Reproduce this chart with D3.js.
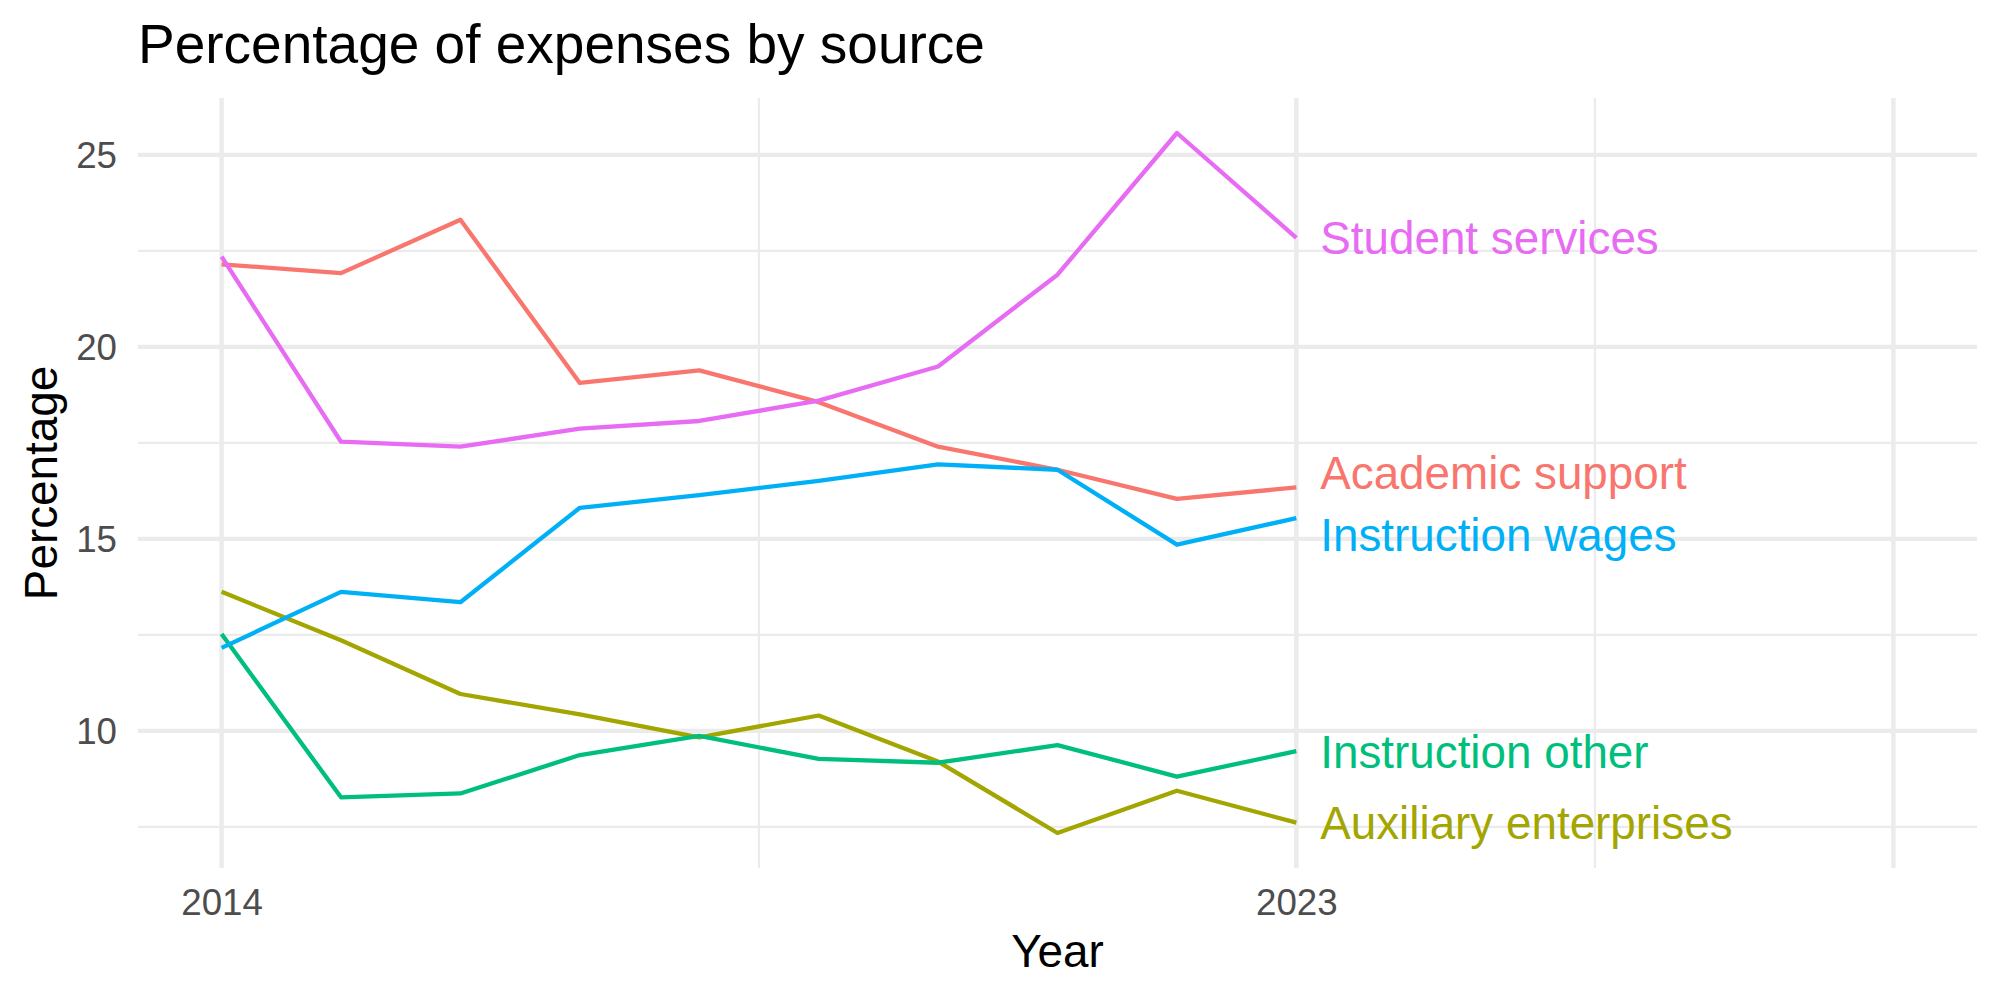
<!DOCTYPE html>
<html>
<head>
<meta charset="utf-8">
<script src="https://cdn.jsdelivr.net/npm/d3@7"></script>
<style>
  body { margin: 0; background: #ffffff; }
  svg { display: block; font-family: "Liberation Sans", Arial, Helvetica, sans-serif; }
</style>
</head>
<body>
<div id="container"></div>
<script>
// data
const years = [2014, 2015, 2016, 2017, 2018, 2019, 2020, 2021, 2022, 2023];
const categories = ['Academic support', 'Auxiliary enterprises', 'Instruction other', 'Instruction wages', 'Student services'];
const academicSupport = [22.15, 21.92, 23.31, 19.06, 19.39, 18.56, 17.40, 16.80, 16.04, 16.34];
const auxiliaryEnterprises = [13.62, 12.36, 10.96, 10.43, 9.83, 10.40, 9.20, 7.34, 8.44, 7.61];
const instructionOther = [12.52, 8.27, 8.37, 9.37, 9.87, 9.27, 9.17, 9.63, 8.81, 9.47];
const instructionWages = [12.16, 13.62, 13.35, 15.81, 16.14, 16.51, 16.94, 16.80, 14.85, 15.54];
const studentServices = [22.35, 17.53, 17.40, 17.87, 18.07, 18.60, 19.49, 21.88, 25.57, 22.84];
// end labels (repelled a little where they would collide)
const labelYear = 2023.2;
const labelValues = [16.74, 7.62, 9.47, 15.12, 22.84];
const xLimits = [2014, 2028];
const xBreaks = [2014, 2023, 2028];
const xTickLabels = ['2014', '2023', ''];
const xMinorBreaks = [2018.5, 2025.5];
const yBreaks = [10, 15, 20, 25];
const yMinorBreaks = [7.5, 12.5, 17.5, 22.5];
const colors = ['#F8766D', '#A3A500', '#00BF7D', '#00B0F6', '#E76BF3'];

const seriesValues = [academicSupport, auxiliaryEnterprises, instructionOther, instructionWages, studentServices];
const series = categories.map((name, i) => ({
    name,
    color: colors[i],
    labelY: labelValues[i],
    values: years.map((year, j) => ({ year, value: seriesValues[i][j] }))
}));

const W = 2000, H = 1000;
const panel = { left: 138, right: 1977, top: 98, bottom: 868 };

const expand = (lo, hi) => {
    const pad = (hi - lo) * 0.05;
    return [lo - pad, hi + pad];
};

const allValues = seriesValues.flat();
const x = d3.scaleLinear().domain(expand(xLimits[0], xLimits[1])).range([panel.left, panel.right]);
const y = d3.scaleLinear().domain(expand(d3.min(allValues), d3.max(allValues))).range([panel.bottom, panel.top]);

const svg = d3.select('#container')
    .append('svg')
    .attr('width', W)
    .attr('height', H)
    .attr('viewBox', `0 0 ${W} ${H}`);

svg.append('rect').attr('width', W).attr('height', H).attr('fill', '#ffffff');

// grid
const grid = svg.append('g').attr('stroke', '#EBEBEB').attr('fill', 'none');

grid.selectAll('.minor-y')
    .data(yMinorBreaks).enter()
    .append('line')
    .attr('x1', panel.left).attr('x2', panel.right)
    .attr('y1', d => y(d)).attr('y2', d => y(d))
    .attr('stroke-width', 2.2);

grid.selectAll('.minor-x')
    .data(xMinorBreaks).enter()
    .append('line')
    .attr('x1', d => x(d)).attr('x2', d => x(d))
    .attr('y1', panel.top).attr('y2', panel.bottom)
    .attr('stroke-width', 2.2);

grid.selectAll('.major-y')
    .data(yBreaks).enter()
    .append('line')
    .attr('x1', panel.left).attr('x2', panel.right)
    .attr('y1', d => y(d)).attr('y2', d => y(d))
    .attr('stroke-width', 4.4);

grid.selectAll('.major-x')
    .data(xBreaks).enter()
    .append('line')
    .attr('x1', d => x(d)).attr('x2', d => x(d))
    .attr('y1', panel.top).attr('y2', panel.bottom)
    .attr('stroke-width', 4.4);

// axes
const yAxis = svg.append('g')
    .attr('transform', `translate(${panel.left},0)`)
    .call(d3.axisLeft(y).tickValues(yBreaks).tickSize(0).tickPadding(21).tickFormat(d3.format('d')));

const xAxis = svg.append('g')
    .attr('transform', `translate(0,${panel.bottom})`)
    .call(d3.axisBottom(x).tickValues(xBreaks).tickSize(0).tickPadding(21).tickFormat((d, i) => xTickLabels[i]));

[xAxis, yAxis].forEach(ax => {
    ax.select('.domain').remove();
    ax.selectAll('text')
        .attr('fill', '#4D4D4D')
        .style('font-size', '36.7px')
        .style('font-family', '"Liberation Sans", Arial, Helvetica, sans-serif');
});
yAxis.selectAll('text').attr('dy', '0.35em');

// lines
const line = d3.line()
    .x(d => x(d.year))
    .y(d => y(d.value));

svg.append('g')
    .selectAll('path')
    .data(series).enter()
    .append('path')
    .attr('d', d => line(d.values))
    .attr('fill', 'none')
    .attr('stroke', d => d.color)
    .attr('stroke-width', 4.3)
    .attr('stroke-linejoin', 'round')
    .attr('stroke-linecap', 'butt');

// end labels
svg.append('g')
    .selectAll('text')
    .data(series).enter()
    .append('text')
    .attr('x', x(labelYear))
    .attr('y', d => y(d.labelY))
    .attr('dy', '0.36em')
    .attr('fill', d => d.color)
    .style('font-size', '45.8px')
    .text(d => d.name);

// titles
svg.append('text')
    .attr('x', panel.left)
    .attr('y', 63)
    .attr('fill', '#000000')
    .style('font-size', '55px')
    .text('Percentage of expenses by source');

svg.append('text')
    .attr('x', (panel.left + panel.right) / 2)
    .attr('y', 967)
    .attr('text-anchor', 'middle')
    .attr('fill', '#000000')
    .style('font-size', '45.8px')
    .text('Year');

svg.append('text')
    .attr('transform', `translate(57,${(panel.top + panel.bottom) / 2}) rotate(-90)`)
    .attr('text-anchor', 'middle')
    .attr('fill', '#000000')
    .style('font-size', '45.8px')
    .text('Percentage');
</script>
</body>
</html>
